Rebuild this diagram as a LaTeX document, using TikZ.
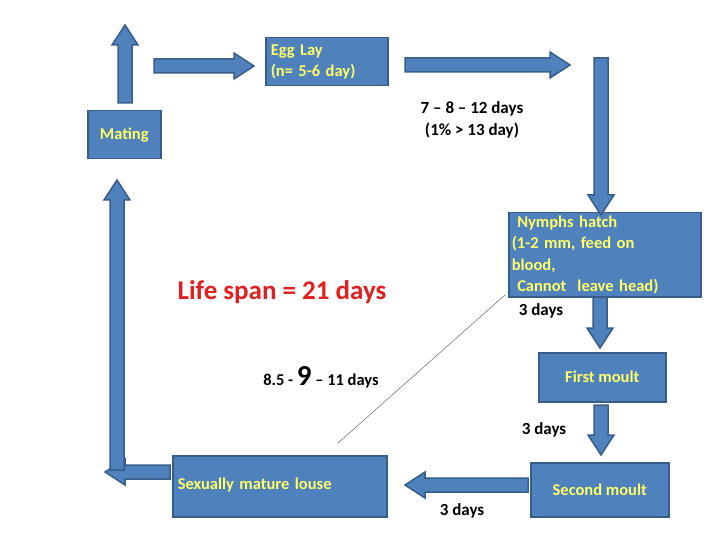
\documentclass[tikz,border=0pt]{standalone}
\usepackage{fontspec}
\setmainfont{Carlito}
\begin{document}
\begin{tikzpicture}[x=1pt,y=-1pt,
  box/.style={draw=boxedge,fill=boxfill,line width=1.5pt,text=boxtext,font=\bfseries\fontsize{16.5}{21.5}\selectfont},
  lbl/.style={font=\bfseries\fontsize{17}{22}\selectfont,text=black},
  barrow/.pic={\draw[draw=boxedge,fill=boxfill,line width=1.5pt,line join=miter] (0,-7)--(#1-20,-7)--(#1-20,-13)--(#1,0)--(#1-20,13)--(#1-20,7)--(0,7)--cycle;}]
\definecolor{boxfill}{HTML}{4F81BD}
\definecolor{boxedge}{HTML}{385D8A}
\definecolor{boxtext}{HTML}{FFFF66}
\definecolor{redtxt}{HTML}{E02020}
\useasboundingbox (0,0) rectangle (720,540);
% boxes
\node[box,minimum width=122,minimum height=48,anchor=north west,align=left,text width=112,inner sep=4] (egg) at (265,37) {Egg Lay\\(n= 5-6 day)};
\node[box,minimum width=73,minimum height=48,anchor=north west,inner sep=2] (mate) at (87,110) {Mating};
\node[box,minimum width=192,minimum height=84,anchor=north west,align=left,text width=186,inner sep=1] (nymph) at (508,212) {\ Nymphs hatch\\(1-2 mm, feed on\\blood,\\\ Cannot\ \ leave head)};
\node[box,minimum width=127,minimum height=49,anchor=north west] (first) at (538,352) {First moult};
\node[box,minimum width=138,minimum height=54,anchor=north west] (second) at (530,462) {Second moult};
\node[box,minimum width=214,minimum height=61,anchor=north west,text width=204,align=left,inner sep=5] (louse) at (172,455) {\raisebox{6pt}{Sexually mature louse}};
% labels
\node[lbl,align=center] (t1) at (472,120) {7 – 8 – 12 days\\(1\% > 13 day)};
\node[lbl] (t2) at (541,311) {3 days};
\node[lbl] (t3) at (544,430) {3 days};
\node[lbl] (t4) at (462,511) {3 days};
\node[font=\bfseries\fontsize{27}{30}\selectfont,text=redtxt] (life) at (282,292) {Life span = 21 days};
\node[font=\bfseries\fontsize{16.5}{20}\selectfont] (nine) at (321,377) {8.5 - {\fontsize{29}{30}\selectfont 9} – 11 days};
% thin line
\coordinate (la) at (338,443);
\coordinate (lb) at (505,295);
\draw[gray!80!black,line width=0.5pt] (la) -- (lb);
% arrows
\pic[rotate=90] at (125,103) {barrow=78};
\pic at (154,66) {barrow=100};
\pic at (405,65) {barrow=165};
\pic[rotate=-90] at (601,58) {barrow=157};
\pic[rotate=-90] at (600,297) {barrow=51};
\pic[rotate=-90] at (601,405) {barrow=50};
\pic[rotate=180] at (528,485) {barrow=123};
\pic[rotate=180] at (170,472) {barrow=65};
\pic[rotate=90] at (117,470) {barrow=290};
\end{tikzpicture}
\end{document}
